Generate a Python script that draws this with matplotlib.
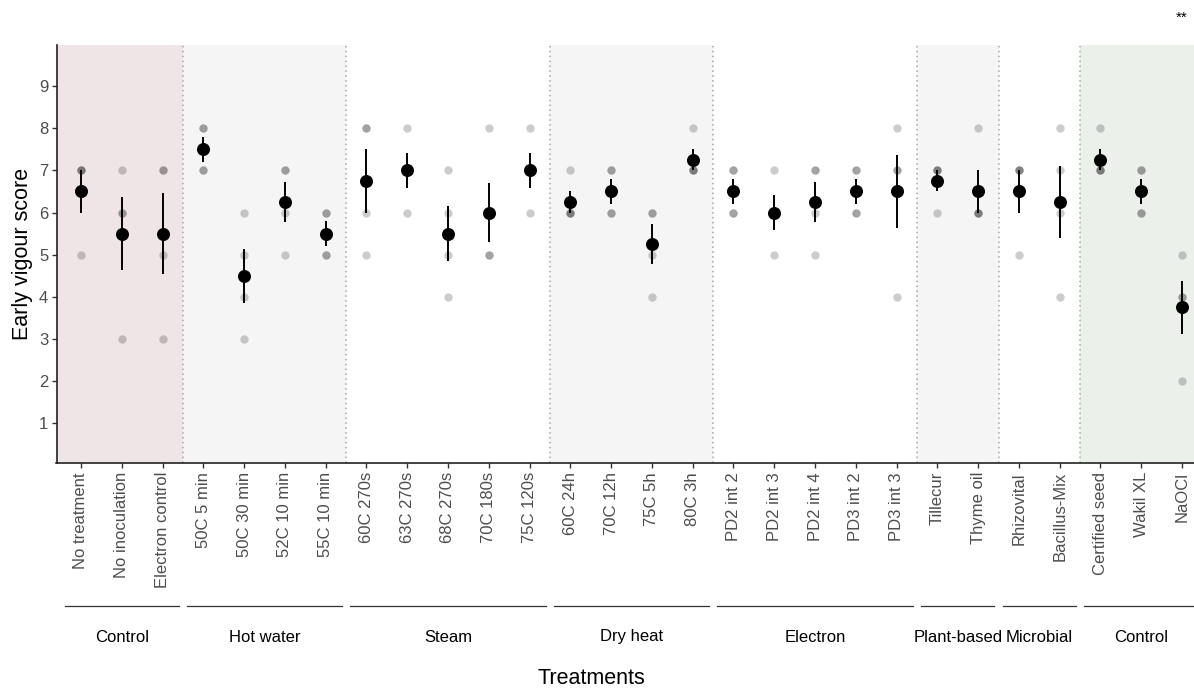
import matplotlib
matplotlib.use("Agg")
import matplotlib.pyplot as plt
import matplotlib.transforms as mtransforms
import numpy as np

plt.rcParams['font.family'] = ['Liberation Sans', 'DejaVu Sans']

# treatments in plotting order
treatments = ["No treatment", "No inoculation", "Electron control",
              "50C 5 min", "50C 30 min", "52C 10 min", "55C 10 min",
              "60C 270s", "63C 270s", "68C 270s", "70C 180s", "75C 120s",
              "60C 24h", "70C 12h", "75C 5h", "80C 3h",
              "PD2 int 2", "PD2 int 3", "PD2 int 4", "PD3 int 2", "PD3 int 3",
              "Tillecur", "Thyme oil",
              "Rhizovital", "Bacillus-Mix",
              "Certified seed", "Wakil XL", "NaOCl"]

groups = ["Control", "Hot water", "Steam", "Dry heat", "Electron",
          "Plant-based", "Microbial", "Control"]
group_sizes = [3, 4, 5, 4, 5, 2, 2, 3]
group_colors = ["#efe4e6", "#f5f5f5", "#ffffff", "#f5f5f5", "#ffffff",
                "#f5f5f5", "#ffffff", "#ebf0eb"]

# replicate scores (4 per treatment)
scores = [[7, 7, 7, 5], [7, 6, 6, 3], [7, 7, 5, 3],
          [8, 8, 7, 7], [6, 5, 4, 3], [7, 7, 6, 5], [6, 6, 5, 5],
          [8, 8, 6, 5], [8, 7, 7, 6], [7, 6, 5, 4], [8, 6, 5, 5], [8, 7, 7, 6],
          [7, 6, 6, 6], [7, 7, 6, 6], [6, 6, 5, 4], [8, 7, 7, 7],
          [7, 7, 6, 6], [7, 6, 6, 5], [7, 7, 6, 5], [7, 7, 6, 6], [8, 7, 7, 4],
          [7, 7, 7, 6], [8, 6, 6, 6],
          [7, 7, 7, 5], [8, 7, 6, 4],
          [8, 7, 7, 7], [7, 7, 6, 6], [5, 4, 4, 2]]

x = np.arange(len(treatments))
means = np.array([np.mean(s) for s in scores])
ses = np.array([np.std(s, ddof=1) / np.sqrt(len(s)) for s in scores])

W, H = 1194, 688
fig = plt.figure(figsize=(W / 100, H / 100), dpi=100)
ax = fig.add_axes([56.5 / W, 225 / H, 1150 / W, 418 / H])
ax.set_xlim(-0.6, 27.6)
ax.set_ylim(0.05, 9.98)

# group backgrounds and separators
starts = np.cumsum([0] + group_sizes[:-1])
for i, (st, n) in enumerate(zip(starts, group_sizes)):
    left = -0.6 if i == 0 else st - 0.5
    right = 27.6 if i == len(groups) - 1 else st + n - 0.5
    ax.axvspan(left, right, color=group_colors[i], lw=0, zorder=0)
    if i > 0:
        ax.axvline(st - 0.5, color="#a6a6a6", lw=1.1, ls=(0, (1, 2.2)), zorder=1)

# raw points
for xi, s in zip(x, scores):
    ax.scatter([xi] * len(s), s, s=36, color="black", alpha=0.2, lw=0, zorder=2)

ax.errorbar(x, means, yerr=ses, fmt="none", ecolor="black", elinewidth=1.4,
            capsize=0, zorder=3)
ax.scatter(x, means, s=70, color="black", zorder=4)

ax.set_xticks(x)
ax.set_xticklabels(treatments, rotation=90, fontsize=12, color="#4d4d4d")
ax.set_yticks(range(1, 10))
ax.tick_params(axis="y", labelsize=12, labelcolor="#4d4d4d", length=3.5,
               width=1, color="#333333", pad=2.5)
ax.tick_params(axis="x", length=3.5, width=1, color="#333333", pad=3)
for sp in ["top", "right"]:
    ax.spines[sp].set_visible(False)
for sp in ["left", "bottom"]:
    ax.spines[sp].set_linewidth(1.2)
    ax.spines[sp].set_color("#222222")

# group annotation below tick labels
trans = mtransforms.blended_transform_factory(ax.transData, fig.transFigure)
for st, n, g in zip(starts, group_sizes, groups):
    a, b = st - 0.4, st + n - 1 + 0.4
    ax.plot([a, b], [1 - 606 / H] * 2, color="#333333", lw=0.9,
            transform=trans, clip_on=False)
    ax.text((a + b) / 2, 1 - 637 / H, g, transform=trans, ha="center",
            va="center", fontsize=12, color="black")

fig.text(23 / W, 1 - 254 / H, "Early vigour score", rotation=90,
         ha="center", va="center", fontsize=15.5)
fig.text(591 / W, 1 - 679 / H, "Treatments", ha="center", va="center",
         fontsize=15.5)
fig.text(1182 / W, 1 - 18 / H, "**", ha="center", va="center", fontsize=11)

fig.savefig("out.png", dpi=100)
